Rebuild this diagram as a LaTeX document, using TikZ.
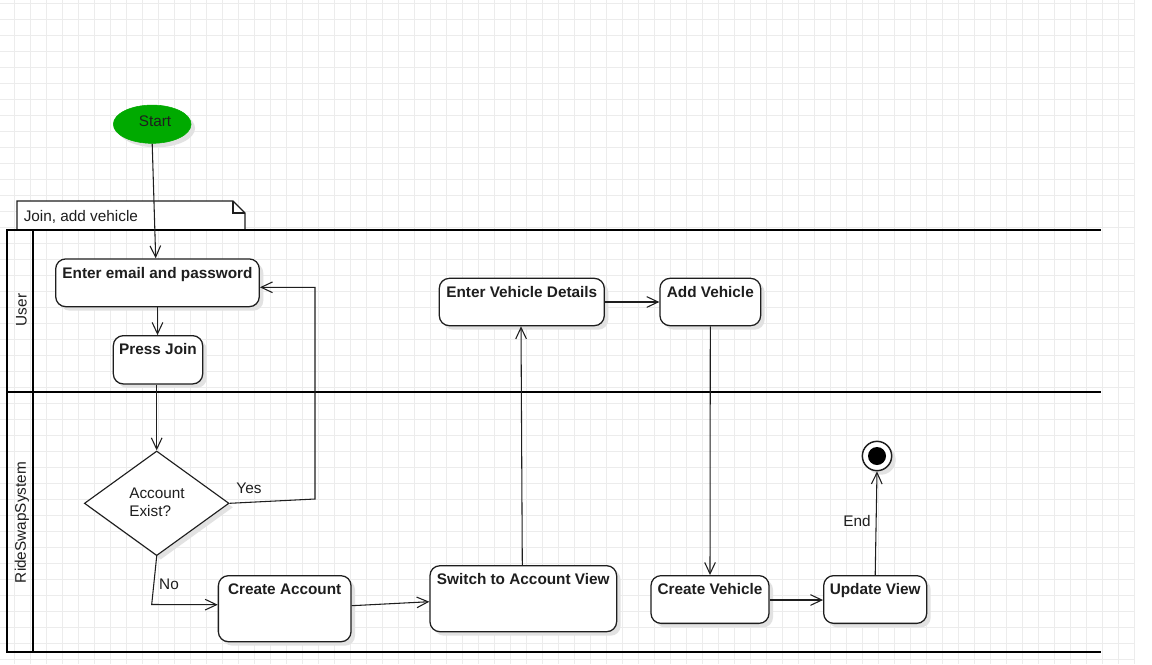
\documentclass[tikz,border=0pt]{standalone}
\usepackage{fontspec}
\setmainfont{Liberation Sans}
\usetikzlibrary{shapes.geometric,arrows.meta,shadows,calc}

\definecolor{gridgray}{RGB}{236,236,236}
\definecolor{startgreen}{RGB}{0,170,0}
\definecolor{inkgray}{RGB}{30,30,30}
\definecolor{shadowgray}{RGB}{226,226,226}

\newcommand{\diagfont}{\fontsize{11.5pt}{13.5pt}\selectfont}

\tikzset{
  gridline/.style={draw=gridgray, line width=0.7pt},
  lane/.style={draw=black, line width=1.8pt},
  softshadow/.style={drop shadow={shadow xshift=3pt, shadow yshift=-3pt, fill=shadowgray, opacity=1}},
  act/.style={draw=inkgray, line width=0.95pt, fill=white, rounded corners=7.5pt,
              inner sep=0pt, softshadow},
  acttext/.style={anchor=north, inner sep=0pt, yshift=-6.3pt, font=\diagfont\bfseries, text=inkgray},
  decision/.style={diamond, draw=inkgray, line width=0.85pt, fill=white, inner sep=0pt, softshadow},
  flow/.style={draw=inkgray, line width=0.8pt, -{Straight Barb[length=8.5pt,width=8pt]}},
  plainlabel/.style={inner sep=0pt, text=inkgray, font=\diagfont},
}

\begin{document}
\begin{tikzpicture}[x=0.75pt, y=-0.75pt, font=\diagfont]
  \useasboundingbox (0,0) rectangle (1152,664);
  \fill[white] (0,0) rectangle (1152,664);

  % background grid
  \foreach \i in {0,...,70} \draw[gridline] (14.5+16*\i,0) -- (14.5+16*\i,664);
  \foreach \j in {0,...,41} \draw[gridline] (0,3.5+16*\j) -- (1135,3.5+16*\j);

  % frame note
  \draw[fill=white, line width=0.8pt, draw=inkgray]
    (17,230) -- (17,201) -- (233,201) -- (245,213) -- (245,230);
  \draw[line width=0.8pt, draw=inkgray] (233,201) -- (233,213) -- (245,213);
  \node[plainlabel, anchor=west] (frametitle) at (23.5,216.5) {Join, add vehicle};

  % swimlanes
  \draw[lane] (7,230) -- (1100.5,230);
  \draw[lane] (7,392) -- (1100.5,392);
  \draw[lane] (7,652) -- (1100.5,652);
  \draw[lane] (7,229.2) -- (7,652.8);
  \draw[lane, line width=1.5pt] (33,230) -- (33,652);
  \node[plainlabel, rotate=90] (laneuser) at (21.5,310) {User};
  \node[plainlabel, rotate=90] (lanesys) at (22,522.5) {RideSwapSystem};

  % start and end
  \node[ellipse, draw=startgreen, fill=startgreen, minimum width=58.3pt, minimum height=28.7pt,
        inner sep=0pt, softshadow] (start) at (152.2,124.2) {};
  \node[plainlabel] (starttext) at (155,121) {Start};
  \node[circle, draw=inkgray, line width=1.1pt, fill=white, minimum size=22pt, inner sep=0pt,
        softshadow] (fin) at (877,456) {};
  \node[circle, fill=black, minimum size=13.5pt, inner sep=0pt] (findot) at (fin.center) {};

  % actions
  \node[act, minimum width=152.7pt, minimum height=35.8pt,
        label={[acttext]north:Enter email and password}] (email) at (157.5,282.8) {};
  \node[act, minimum width=67pt, minimum height=36.2pt,
        label={[acttext]north:Press Join}] (join) at (158,359.8) {};
  \node[decision, minimum width=108.5pt, minimum height=78.5pt] (dia) at (156.7,503.3) {};
  \node[plainlabel, align=left] (diatext) at (157,502.7) {Account\\Exist?};
  \node[act, minimum width=99.5pt, minimum height=49.5pt,
        label={[acttext]north:Create Account}] (acct) at (284.7,608.7) {};
  \node[act, minimum width=140pt, minimum height=49.5pt,
        label={[acttext]north:Switch to Account View}] (switch) at (523.3,598.7) {};
  \node[act, minimum width=123.75pt, minimum height=35.5pt,
        label={[acttext]north:Enter Vehicle Details}] (evd) at (521.8,302) {};
  \node[act, minimum width=75.5pt, minimum height=35.5pt,
        label={[acttext]north:Add Vehicle}] (addv) at (710.3,302) {};
  \node[act, minimum width=88.5pt, minimum height=35.8pt,
        label={[acttext]north:Create Vehicle}] (crv) at (710,599.5) {};
  \node[act, minimum width=77.25pt, minimum height=35.8pt,
        label={[acttext]north:Update View}] (upd) at (875.2,599.5) {};

  % bend points
  \coordinate (ybend) at (315,499);
  \coordinate (nbend) at (151.7,604.5);

  % control flow
  \draw[flow] (start.south) -- ($(email.north)+(-1.8,0)$);
  \draw[flow] (email.south) -- (email.south |- join.north);
  \draw[flow] (dia.north |- join.south) -- (dia.north);
  \draw[flow] (dia.east) -- (ybend) |- ($(email.east)+(0,4.5)$);
  \draw[flow] (dia.south) -- (nbend) -- ($(acct.west)+(0,-4)$);
  \draw[flow] ($(acct.east)+(0,-3)$) -- ($(switch.west)+(0,3)$);
  \draw[flow] ($(switch.north)+(-1,0)$) -- ($(evd.south)+(-0.8,0)$);
  \draw[flow] (evd.east) -- (addv.west);
  \draw[flow] (addv.south) -- (crv.north);
  \draw[flow] ($(crv.east)+(0,0.5)$) -- ($(upd.west)+(0,0.5)$);
  \draw[flow] (upd.north) -- (fin.south);

  % guard labels
  \node[plainlabel] (yeslbl) at (249,488) {Yes};
  \node[plainlabel] (nolbl) at (169,584) {No};
  \node[plainlabel] (endlbl) at (857,521.5) {End};
\end{tikzpicture}
\end{document}
